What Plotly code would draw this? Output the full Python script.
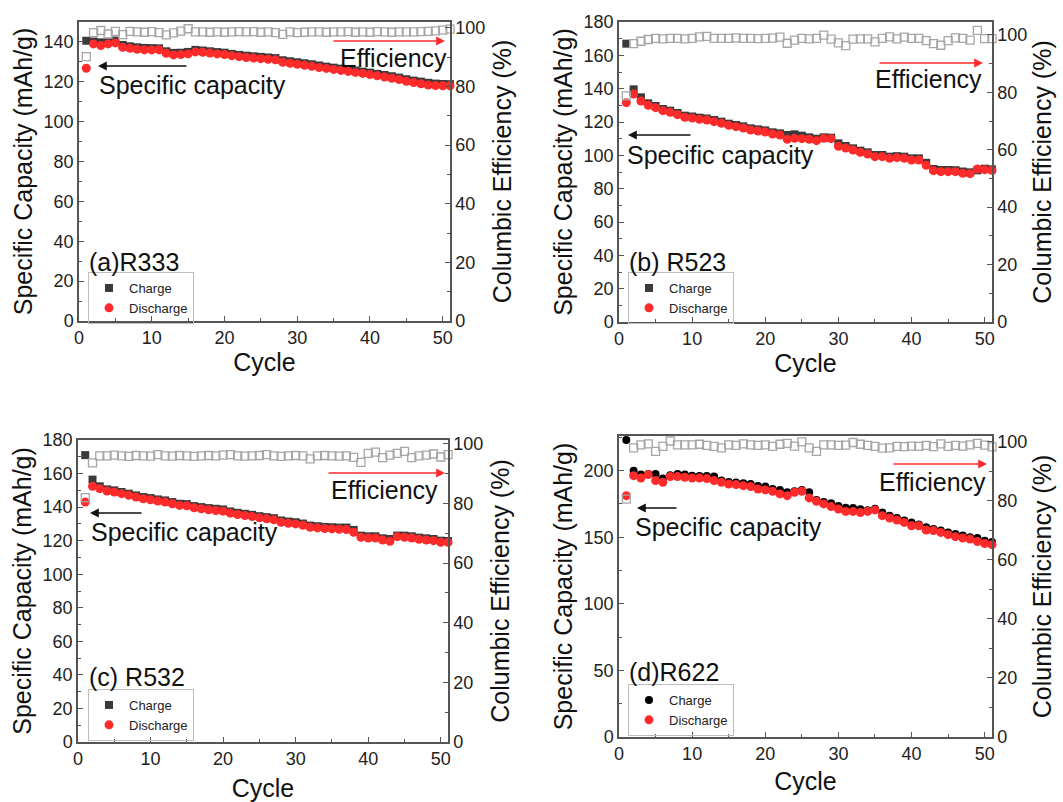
import plotly.graph_objects as go

W, H = 1063, 802

cycles = list(range(1, 52))

# ---- Panel (a) R333 ----
a_charge = [140.6, 140.2, 139.8, 140.0, 140.7, 138.5, 137.8, 137.3, 137.0, 136.9,
            136.8, 135.3, 134.5, 134.6, 135.0, 136.0, 135.7, 135.3, 134.9, 134.6,
            134.0, 133.5, 133.1, 132.8, 132.5, 132.2, 131.9, 130.8, 130.3, 129.8,
            129.3, 128.8, 128.2, 127.6, 127.1, 126.6, 126.0, 125.6, 125.1, 124.6,
            124.0, 123.4, 122.8, 122.1, 121.3, 120.6, 120.1, 119.5, 119.1, 118.9, 118.8]
a_discharge = [126.8, 139.0, 138.2, 139.0, 139.5, 137.3, 136.8, 136.3, 136.0, 136.0,
               136.1, 134.3, 133.5, 133.7, 134.0, 135.0, 134.8, 134.4, 134.0, 133.7,
               133.1, 132.6, 132.2, 131.9, 131.6, 131.3, 131.0, 129.8, 129.3, 128.8,
               128.3, 127.8, 127.2, 126.7, 126.2, 125.7, 125.2, 124.7, 124.2, 123.6,
               123.0, 122.4, 121.8, 121.1, 120.3, 119.6, 119.0, 118.4, 118.1, 118.0, 118.0]
a_eff = [90.2, 98.4, 99.1, 97.9, 98.8, 97.7, 98.8, 98.6, 98.5, 98.7,
         98.4, 97.6, 98.3, 98.9, 99.7, 98.6, 98.6, 98.5, 98.6, 98.5,
         98.6, 98.7, 98.6, 98.7, 98.5, 98.6, 98.4, 97.8, 98.6, 98.4,
         98.5, 98.6, 98.6, 98.5, 98.6, 98.6, 98.7, 98.5, 98.6, 98.5,
         98.7, 98.6, 98.5, 98.6, 98.6, 98.6, 98.7, 98.8, 99.0, 99.2, 99.6]

# ---- Panel (b) R523 ----
b_charge = [167.0, 139.6, 134.8, 131.2, 129.6, 127.8, 126.8, 125.4, 123.8, 123.3,
            122.6, 122.1, 121.2, 120.2, 119.0, 118.2, 117.4, 116.2, 115.6, 115.0,
            113.8, 113.2, 112.2, 112.6, 111.8, 110.8, 110.0, 110.8, 110.6, 107.2,
            105.6, 104.2, 102.8, 101.8, 100.2, 100.2, 99.2, 99.5, 99.2, 98.2,
            98.2, 95.5, 91.8, 91.2, 91.2, 91.1, 90.3, 89.8, 91.0, 92.0, 91.6]
b_discharge = [131.6, 136.8, 132.6, 130.0, 128.6, 126.8, 125.8, 124.4, 122.8, 122.4,
               121.6, 121.2, 120.2, 119.2, 118.0, 117.2, 116.4, 115.2, 114.6, 114.0,
               112.8, 112.2, 109.6, 110.2, 110.0, 109.6, 108.8, 110.2, 110.0, 105.4,
               104.4, 103.2, 101.8, 100.8, 99.2, 99.2, 98.2, 98.6, 98.2, 97.2,
               97.2, 94.0, 90.8, 90.2, 90.2, 90.2, 89.2, 89.0, 91.8, 91.4, 91.0]
b_eff = [78.8, 97.0, 97.8, 98.4, 98.8, 98.6, 98.8, 98.8, 98.6, 98.8,
         99.3, 99.5, 98.8, 98.8, 98.8, 99.0, 98.8, 98.8, 98.7, 98.8,
         98.9, 99.2, 97.1, 98.2, 98.8, 98.6, 98.8, 99.9, 98.5, 97.2,
         96.3, 98.5, 98.6, 98.6, 97.6, 98.8, 99.3, 98.6, 99.2, 98.8,
         98.8, 98.0, 97.0, 96.4, 98.0, 99.0, 98.8, 98.2, 101.6, 98.7, 98.7]

# ---- Panel (c) R532 ----
c_charge = [171.0, 156.4, 152.4, 150.6, 150.0, 149.0, 148.0, 147.0, 146.0, 145.4,
            144.6, 144.0, 143.0, 142.0, 141.8, 140.6, 140.0, 139.4, 139.0, 138.6,
            137.4, 136.6, 136.0, 135.4, 134.6, 134.0, 133.4, 132.0, 131.4, 131.0,
            130.2, 129.0, 128.6, 128.2, 128.0, 127.8, 127.8, 126.4, 123.0, 122.6,
            122.6, 121.4, 121.0, 123.0, 123.0, 122.6, 121.8, 121.4, 121.0, 120.0, 119.8]
c_discharge = [143.0, 152.4, 151.0, 149.6, 149.0, 148.0, 147.0, 146.0, 145.0, 144.4,
               143.6, 143.0, 142.0, 141.0, 140.8, 139.6, 139.0, 138.4, 138.0, 137.6,
               136.4, 135.6, 135.0, 134.4, 133.6, 133.0, 132.4, 131.0, 130.4, 130.0,
               129.2, 128.0, 127.6, 127.2, 127.0, 126.8, 126.6, 125.0, 122.0, 121.6,
               121.6, 120.4, 119.6, 122.4, 122.0, 121.6, 120.8, 120.4, 120.0, 119.0, 119.0]
c_eff = [82.0, 93.6, 96.0, 96.0, 96.2, 96.0, 95.8, 96.1, 96.0, 95.9,
         96.4, 96.0, 95.9, 96.1, 96.0, 95.8, 96.0, 96.1, 96.0, 96.2,
         96.4, 96.0, 95.9, 96.0, 96.1, 96.4, 96.0, 95.8, 96.0, 96.1,
         96.0, 95.0, 96.0, 96.1, 96.0, 95.9, 96.0, 95.5, 93.8, 96.8,
         97.2, 95.4, 96.2, 96.8, 97.5, 95.4, 96.0, 96.2, 96.6, 95.6, 96.4]

# ---- Panel (d) R622 ----
d_charge = [223.0, 200.0, 197.0, 197.5, 197.5, 194.0, 196.5, 197.5, 197.0, 196.2,
            196.0, 196.0, 195.5, 192.5, 191.5, 191.0, 190.5, 190.0, 188.5, 188.0,
            186.2, 185.5, 183.7, 184.5, 185.5, 183.7, 178.0, 176.5, 175.5, 173.5,
            172.2, 172.0, 171.0, 170.3, 171.4, 168.6, 166.2, 164.4, 162.5, 161.1,
            159.6, 157.4, 156.2, 155.0, 153.6, 152.4, 151.2, 150.0, 149.4, 147.4, 146.5]
d_discharge = [181.2, 196.2, 194.5, 197.0, 192.5, 191.2, 195.5, 195.5, 195.0, 194.5,
               194.5, 194.0, 192.5, 191.2, 190.0, 189.5, 188.7, 188.0, 186.2, 185.5,
               184.5, 182.5, 181.2, 183.7, 184.5, 179.5, 177.0, 175.0, 173.0, 171.2,
               169.4, 169.4, 168.6, 169.4, 170.5, 166.2, 164.4, 162.9, 161.1, 158.6,
               158.6, 155.4, 155.0, 153.6, 151.9, 150.4, 149.4, 148.6, 146.8, 145.3, 144.4]
d_eff = [80.6, 98.0, 99.0, 99.3, 96.8, 98.5, 100.3, 99.0, 99.0, 99.0,
         99.2, 98.8, 98.5, 98.0, 99.0, 98.8, 99.3, 99.0, 98.8, 99.0,
         98.5, 99.2, 99.5, 98.6, 100.0, 98.0, 96.8, 99.0, 99.0, 98.8,
         98.9, 99.8, 99.2, 98.8, 98.5, 97.9, 98.0, 98.5, 98.4, 98.6,
         98.5, 98.8, 98.4, 99.3, 98.5, 98.8, 98.6, 99.0, 99.5, 98.9, 98.3]

panel_labels = ["(a)R333", "(b) R523", "(c) R532", "(d)R622"]
cap_ranges = [[0, 150], [0, 180], [0, 180], [0, 226]]
cap_dticks = [20, 20, 20, 50]
eff_ranges = [[0, 102], [0, 104.5], [0, 101.3], [0, 102]]

FONT = "Liberation Sans, Arial, sans-serif"
RED = "#ff2a2a"
DARK = "#3a3a3a"
GRAY = "#a6a6a6"
AXC = "#555555"

# plot frames in pixels: (left, right, top, bottom)
frames = [(79, 450, 22, 321), (619, 992, 22, 322), (78, 448, 440, 742), (619, 992, 436, 737)]
x_title_standoff = [4, 3, 11, 9]
right_title_standoff = [9, 7, 9, 7]


def px(x):
    return x / W


def py(y):
    return 1 - y / H


fig = go.Figure()

panels = [
    (a_charge, a_discharge, a_eff, "square", DARK),
    (b_charge, b_discharge, b_eff, "square", DARK),
    (c_charge, c_discharge, c_eff, "square", DARK),
    (d_charge, d_discharge, d_eff, "circle", "#000000"),
]

layout = {}
for i, (ch, dis, eff, chsym, chcol) in enumerate(panels):
    n = i + 1
    xa = "x" if n == 1 else f"x{n}"
    ya = "y" if n == 1 else f"y{n}"
    yr = f"y{n + 4}"
    leg = "legend" if n == 1 else f"legend{n}"
    fig.add_trace(go.Scatter(x=cycles, y=eff, xaxis=xa, yaxis=yr, mode="markers",
                             marker=dict(symbol="square-open", size=8, color=GRAY,
                                         line=dict(width=1.3, color=GRAY)),
                             showlegend=False, cliponaxis=False))
    fig.add_trace(go.Scatter(x=cycles, y=ch, xaxis=xa, yaxis=ya, mode="markers",
                             name="Charge", legend=leg,
                             marker=dict(symbol=chsym, size=8, color=chcol),
                             cliponaxis=False))
    fig.add_trace(go.Scatter(x=cycles, y=dis, xaxis=xa, yaxis=ya, mode="markers",
                             name="Discharge", legend=leg,
                             marker=dict(symbol="circle", size=9, color=RED),
                             cliponaxis=False))

    l, r, t, b = frames[i]
    xd = [px(l), px(r)]
    yd = [py(b), py(t)]
    common = dict(showgrid=False, zeroline=False, showline=True, linecolor=AXC,
                  linewidth=1.5, ticks="inside", ticklen=5, tickwidth=1.2, automargin=False,
                  tickcolor=AXC, tickfont=dict(size=18, color="#222", family=FONT))
    layout["xaxis" if n == 1 else f"xaxis{n}"] = dict(
        domain=xd, anchor=ya, range=[0, 51], tick0=0, dtick=10, mirror=True,
        title=dict(text="Cycle", font=dict(size=25, color="#111", family=FONT),
                   standoff=x_title_standoff[i]),
        minor=dict(ticks="inside", ticklen=3, dtick=5, tick0=0, tickcolor=AXC),
        **common)
    layout["yaxis" if n == 1 else f"yaxis{n}"] = dict(
        domain=yd, anchor=xa, range=cap_ranges[i], tick0=0, dtick=cap_dticks[i],
        title=dict(text="Specific Capacity (mAh/g)", font=dict(size=25, color="#111", family=FONT), standoff=4),
        minor=dict(ticks="inside", ticklen=3, dtick=cap_dticks[i] / 2, tick0=0, tickcolor=AXC),
        **common)
    layout[f"yaxis{n + 4}"] = dict(
        anchor=xa, overlaying=ya, side="right", range=eff_ranges[i], tick0=0, dtick=20,
        title=dict(text="Columbic Efficiency (%)", font=dict(size=25, color="#111", family=FONT),
                   standoff=right_title_standoff[i]),
        minor=dict(ticks="inside", ticklen=3, dtick=10, tick0=0, tickcolor=AXC),
        **common)

# legends
leg_pos = [(88, 272), (628, 272), (88, 689), (628, 684)]
for i, (lx, ly) in enumerate(leg_pos):
    key = "legend" if i == 0 else f"legend{i + 1}"
    layout[key] = dict(x=px(lx), y=py(ly), xanchor="left", yanchor="top",
                       bgcolor="rgba(255,255,255,0)", bordercolor="#bdbdbd", borderwidth=1,
                       font=dict(size=13, color="#222", family=FONT), itemwidth=30,
                       tracegroupgap=0)

annotations = []
# panel labels
lab_pos = [(87, 262), (627, 262), (87, 677), (627, 672)]
for (x, y), txt in zip(lab_pos, panel_labels):
    annotations.append(dict(x=px(x), y=py(y), xref="paper", yref="paper", text=txt,
                            showarrow=False, xanchor="left", yanchor="middle",
                            font=dict(size=25, color="#111", family=FONT)))

# "Efficiency" and "Specific capacity" labels
eff_txt = [(393, 58), (928, 79), (384, 490), (932, 482)]
spc_txt = [(192, 85), (720, 155), (184, 532), (728, 527)]
for (x, y) in eff_txt:
    annotations.append(dict(x=px(x), y=py(y), xref="paper", yref="paper", text="Efficiency",
                            showarrow=False, xanchor="center", yanchor="middle",
                            font=dict(size=25, color="#111", family=FONT)))
for (x, y) in spc_txt:
    annotations.append(dict(x=px(x), y=py(y), xref="paper", yref="paper", text="Specific capacity",
                            showarrow=False, xanchor="center", yanchor="middle",
                            font=dict(size=25, color="#111", family=FONT)))

# arrows: (head_x, head_y, tail_x)
red_arrows = [(445, 41, 332), (983, 63, 878), (445, 473, 327), (987, 464, 892)]
blk_arrows = [(98, 66, 188), (628, 135, 692), (90, 513, 143), (637, 508, 678)]
for hx, hy, tx in red_arrows:
    annotations.append(dict(x=px(hx), y=py(hy), xref="paper", yref="paper", text="",
                            showarrow=True, ax=tx - hx, ay=0, arrowhead=2, arrowsize=1.1,
                            arrowwidth=1.6, arrowcolor=RED))
for hx, hy, tx in blk_arrows:
    annotations.append(dict(x=px(hx), y=py(hy), xref="paper", yref="paper", text="",
                            showarrow=True, ax=tx - hx, ay=0, arrowhead=2, arrowsize=1.1,
                            arrowwidth=1.6, arrowcolor="#111"))

fig.update_layout(width=W, height=H, margin=dict(l=0, r=0, t=0, b=0, autoexpand=False),
                  paper_bgcolor="white", plot_bgcolor="white",
                  font=dict(family=FONT, color="#222"),
                  annotations=annotations, **layout)

fig.write_html("out.html", config={"displayModeBar": False},
               post_script="document.body.style.margin='0';")
